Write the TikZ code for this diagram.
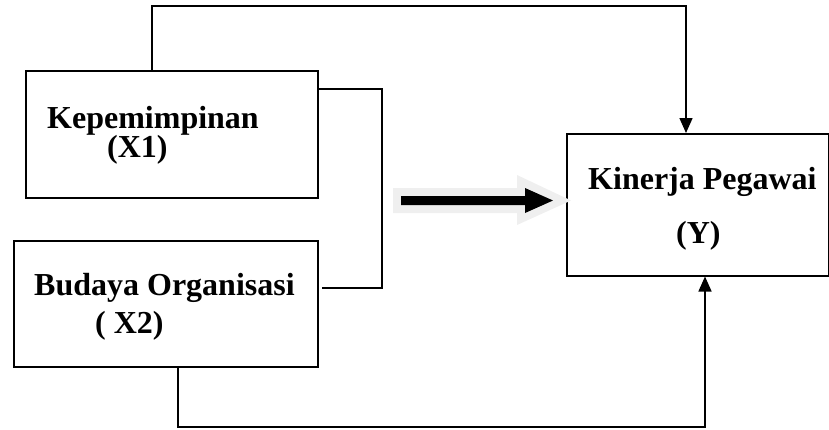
\documentclass[tikz,border=0pt]{standalone}
\usepackage{fontspec}
\setmainfont{Liberation Serif}
\usetikzlibrary{arrows.meta}
\definecolor{shadowgray}{HTML}{EFEFEF}
\tikzset{
  box/.style={draw, line width=1.5pt, inner sep=0pt, anchor=north west},
  lbl/.style={inner sep=0pt, anchor=base west, font=\fontsize{32}{38}\selectfont\bfseries},
  link/.style={line width=1.5pt},
  tip/.style={-{Triangle[width=13pt,length=15pt]}}
}
\begin{document}
\begin{tikzpicture}[x=1pt,y=-1pt]
\useasboundingbox (0,0) rectangle (829,429);

% boxes
\node[box, minimum width=292pt, minimum height=127pt] (x1) at (25,70) {};
\node[box, minimum width=304pt, minimum height=126pt] (x2) at (13,240) {};
\node[box, minimum width=262pt, minimum height=142pt] (y) at (566,133) {};

% labels
\node[lbl] (x1a) at (47,128) {Kepemimpinan};
\node[lbl] (x1b) at (107,157) {(X1)};
\node[lbl] (x2a) at (34,295) {Budaya Organisasi};
\node[lbl] (x2b) at (95,333) {( X2)};
\node[lbl] (ya) at (588,189) {Kinerja Pegawai};
\node[lbl] (yb) at (676,243) {(Y)};

% route points
\coordinate (topL) at (152,6);
\coordinate (topR) at (686,6);
\coordinate (bt) at (382,89);
\coordinate (bb) at (382,288);
\coordinate (bl) at (178,427);
\coordinate (br) at (705,427);

% top link X1 -> Y
\draw[link, tip] (x1.north -| topL) -- (topL) -- (topR) -- (topR |- y.north);
% bracket joining X1 and X2
\draw[link] (x1.east |- bt) -- (bt) -- (bb) -- ([xshift=3pt]x2.east |- bb);
% bottom link X2 -> Y
\draw[link, tip] (x2.south -| bl) -- (bl) -- (br) -- (br |- y.south);

% joint effect arrow with pale halo
\fill[shadowgray] (393,188) -- (517,188) -- (517,175) -- (571,200.5) -- (517,225) -- (517,213) -- (393,213) -- cycle;
\fill[black] (401,196) -- (525,196) -- (525,188) -- (553,200.5) -- (525,213) -- (525,205) -- (401,205) -- cycle;
\end{tikzpicture}
\end{document}
